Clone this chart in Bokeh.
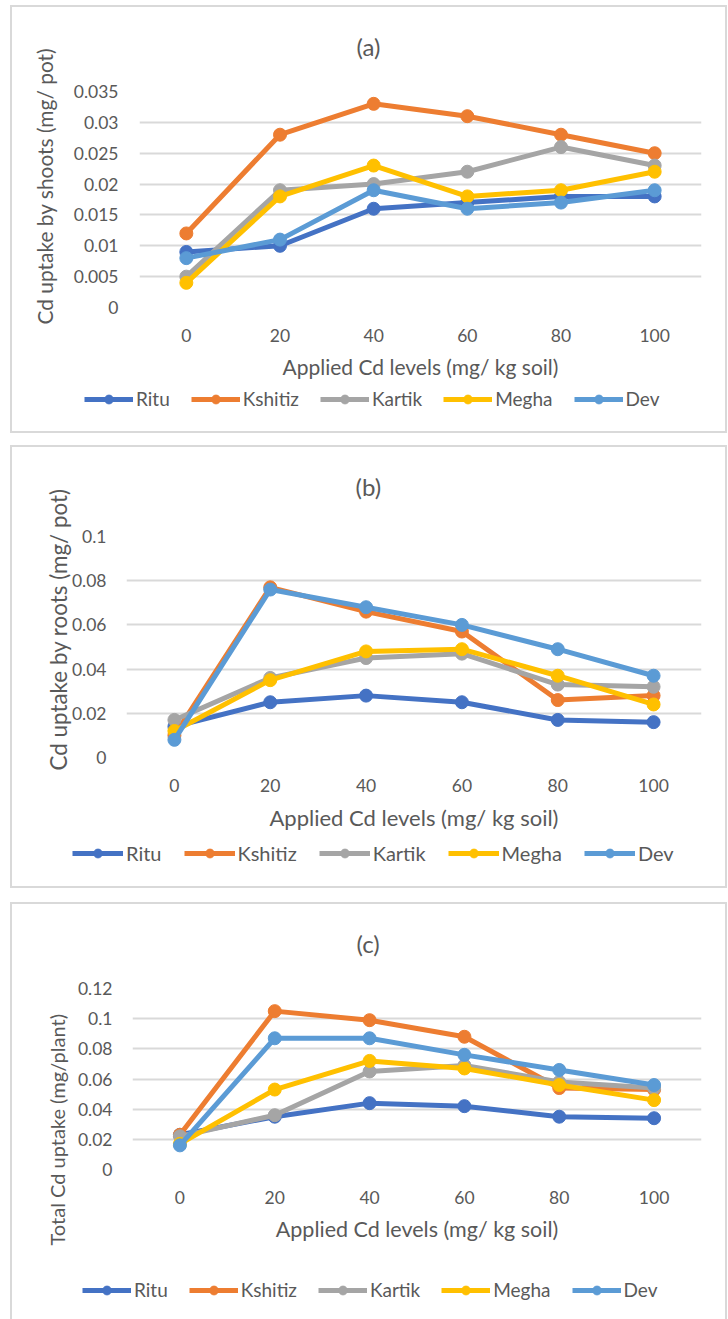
from bokeh.plotting import figure
from bokeh.models import (FactorRange, Range1d, FixedTicker, CustomJSTickFormatter,
                          Legend, LegendItem, Title, Spacer)
from bokeh.layouts import column, row
from bokeh.embed import file_html
from bokeh.resources import INLINE

# ---------------- data ----------------
levels = ["0", "20", "40", "60", "80", "100"]
series_names = ["Ritu", "Kshitiz", "Kartik", "Megha", "Dev"]
colors = ["#4472C4", "#ED7D31", "#A5A5A5", "#FFC000", "#5B9BD5"]

# (a) Cd uptake by shoots (mg/ pot)
shoots_ritu = [0.009, 0.010, 0.016, 0.017, 0.018, 0.018]
shoots_kshitiz = [0.012, 0.028, 0.033, 0.031, 0.028, 0.025]
shoots_kartik = [0.005, 0.019, 0.020, 0.022, 0.026, 0.023]
shoots_megha = [0.004, 0.018, 0.023, 0.018, 0.019, 0.022]
shoots_dev = [0.008, 0.011, 0.019, 0.016, 0.017, 0.019]
shoots_ticks = [0, 0.005, 0.01, 0.015, 0.02, 0.025, 0.03, 0.035]

# (b) Cd uptake by roots (mg/ pot)
roots_ritu = [0.014, 0.025, 0.028, 0.025, 0.017, 0.016]
roots_kshitiz = [0.010, 0.077, 0.066, 0.057, 0.026, 0.028]
roots_kartik = [0.017, 0.036, 0.045, 0.047, 0.033, 0.032]
roots_megha = [0.012, 0.035, 0.048, 0.049, 0.037, 0.024]
roots_dev = [0.008, 0.076, 0.068, 0.060, 0.049, 0.037]
roots_ticks = [0, 0.02, 0.04, 0.06, 0.08, 0.1]

# (c) Total Cd uptake (mg/plant)
total_ritu = [0.023, 0.035, 0.044, 0.042, 0.035, 0.034]
total_kshitiz = [0.023, 0.105, 0.099, 0.088, 0.054, 0.053]
total_kartik = [0.022, 0.036, 0.065, 0.069, 0.058, 0.054]
total_megha = [0.017, 0.053, 0.072, 0.067, 0.056, 0.046]
total_dev = [0.016, 0.087, 0.087, 0.076, 0.066, 0.056]
total_ticks = [0, 0.02, 0.04, 0.06, 0.08, 0.1, 0.12]

x_title = "Applied Cd levels (mg/ kg soil)"

FONT = "Lato"
TXT = "#595959"
GRID = "#D9D9D9"
FIG_LEFT = 10
FIG_W = 717
LEG_H = 22

# layout constants (page pixels / pixel gaps)
panels = [
    dict(title="(a)", ytitle="Cd uptake by shoots (mg/ pot)",
         series=[shoots_ritu, shoots_kshitiz, shoots_kartik, shoots_megha, shoots_dev],
         ticks=shoots_ticks, top=0, box_top=5, split=386, bottom=433,
         fl=139, fr=701, ft=90, fb=307,
         t_off=217, t_so=60,
         yt_size=20.9, yt_so=26, yt_off=-17, ylab_gap=21, xt_size=21,
         leg_left=84, leg_cy=399, leg_font=19, leg_glyph=49, leg_sp=21, sides=4),
    dict(title="(b)", ytitle="Cd uptake by roots (mg/ pot)",
         series=[roots_ritu, roots_kshitiz, roots_kartik, roots_megha, roots_dev],
         ticks=roots_ticks, top=436, box_top=445, split=840, bottom=888,
         fl=126, fr=701, ft=535, fb=757,
         t_off=229, t_so=69,
         yt_size=22.4, yt_so=-8, yt_off=-13, ylab_gap=20, xt_size=22,
         leg_left=72, leg_cy=854, leg_font=20, leg_glyph=51, leg_sp=22, sides=4),
    dict(title="(c)", ytitle="Total Cd uptake (mg/plant)",
         series=[total_ritu, total_kshitiz, total_kartik, total_megha, total_dev],
         ticks=total_ticks, top=897, box_top=902, split=1258, bottom=1319,
         fl=132, fr=701, ft=987, fb=1169,
         t_off=224, t_so=60,
         yt_size=20, yt_so=10, yt_off=-76, ylab_gap=20, xt_size=21.5,
         leg_left=82, leg_cy=1290, leg_font=19, leg_glyph=49, leg_sp=21, sides=3),
]


def make_panel(cfg):
    fl, fr, ft, fb = cfg["fl"], cfg["fr"], cfg["ft"], cfg["fb"]
    top, h = cfg["top"], cfg["split"] - cfg["top"]
    ymax = cfg["ticks"][-1]

    # ---------------- chart ----------------
    p = figure(width=FIG_W, height=h, x_range=FactorRange(*levels),
               y_range=Range1d(0, ymax), output_backend="svg", toolbar_location=None,
               min_border_left=fl - FIG_LEFT, min_border_right=FIG_LEFT + FIG_W - fr,
               min_border_top=ft - top, min_border_bottom=top + h - fb)
    p.border_fill_color = None
    p.background_fill_color = None
    p.outline_line_color = None

    p.yaxis.ticker = FixedTicker(ticks=cfg["ticks"])
    p.yaxis.formatter = CustomJSTickFormatter(code="return String(Number(tick.toFixed(4)))")
    for ax in (p.xaxis[0], p.yaxis[0]):
        ax.axis_line_color = None
        ax.major_tick_line_color = None
        ax.minor_tick_line_color = None
        ax.major_label_text_font = FONT
        ax.major_label_text_font_size = "17.5px"
        ax.major_label_text_color = TXT
    p.yaxis.major_tick_out = 0
    p.yaxis.minor_tick_out = 0
    p.yaxis.major_label_standoff = cfg["ylab_gap"]
    p.xaxis.major_label_standoff = 15
    p.xaxis.axis_label = x_title
    p.xaxis.axis_label_text_font = FONT
    p.xaxis.axis_label_text_font_size = f"{cfg['xt_size']}px"
    p.xaxis.axis_label_text_font_style = "normal"
    p.xaxis.axis_label_text_color = TXT
    p.xaxis.axis_label_standoff = 9

    p.xgrid.grid_line_color = None
    p.ygrid.grid_line_color = GRID
    p.ygrid.grid_line_width = 2
    p.ygrid.ticker = FixedTicker(ticks=cfg["ticks"])

    for name, col, vals in zip(series_names, colors, cfg["series"]):
        p.line(x=levels, y=vals, line_width=5, line_color=col)
        p.scatter(x=levels, y=vals, size=13, fill_color=col, line_color=col)

    p.add_layout(Title(text=cfg["title"], align="left", offset=cfg["t_off"],
                       vertical_align="middle", standoff=cfg["t_so"],
                       text_font=FONT, text_font_size="24px",
                       text_font_style="normal", text_color=TXT), "above")
    p.add_layout(Title(text=cfg["ytitle"], align="left", offset=cfg["yt_off"],
                       vertical_align="middle", standoff=cfg["yt_so"],
                       text_font=FONT, text_font_size=f"{cfg['yt_size']}px",
                       text_font_style="normal", text_color=TXT), "left")

    # ---------------- legend strip (own figure, whole canvas is its frame) ----------------
    lh = cfg["bottom"] - cfg["split"]
    lf = figure(width=FIG_W, height=lh, x_range=FactorRange(*levels), y_range=Range1d(1, 2),
                x_axis_location=None, y_axis_location=None,
                output_backend="svg", toolbar_location=None,
                min_border_left=0, min_border_right=0, min_border_top=0, min_border_bottom=0)
    lf.border_fill_color = None
    lf.background_fill_color = None
    lf.outline_line_color = None
    lf.grid.grid_line_color = None
    items = []
    for name, col, vals in zip(series_names, colors, cfg["series"]):
        # same series, drawn here only to supply the legend keys (out of this strip's view)
        rl = lf.line(x=levels, y=vals, line_width=5, line_color=col)
        rs = lf.scatter(x=levels, y=vals, size=13, fill_color=col, line_color=col)
        items.append(LegendItem(label=name, renderers=[rl, rs]))
    legend = Legend(items=items, orientation="horizontal",
                    location=(cfg["leg_left"] - FIG_LEFT,
                              cfg["bottom"] - (cfg["leg_cy"] + LEG_H / 2)),
                    glyph_width=cfg["leg_glyph"], glyph_height=LEG_H, label_height=LEG_H,
                    label_standoff=3, spacing=cfg["leg_sp"], padding=0, margin=0,
                    border_line_color=None, background_fill_alpha=0,
                    label_text_font=FONT, label_text_font_size=f"{cfg['leg_font']}px",
                    label_text_color=TXT)
    lf.add_layout(legend)

    # panel frame: the visible border starts `band` px below the element's top edge
    band = cfg["box_top"] - cfg["top"]
    shadows = [f"inset 0 {band}px 0 0 #FFFFFF",
               f"inset 0 {band + 2}px 0 0 {GRID}",
               f"inset 2px 0 0 0 {GRID}",
               f"inset -2px 0 0 0 {GRID}"]
    if cfg["sides"] == 4:
        shadows.append(f"inset 0 -2px 0 0 {GRID}")
    # separate rows keep the two figures' frames independent
    return column(row(p), row(lf), styles={"box-shadow": ", ".join(shadows)})


boxes = [make_panel(c) for c in panels]
layout = column(
    row(Spacer(width=FIG_LEFT), boxes[0]),
    Spacer(height=panels[1]["top"] - panels[0]["bottom"]),
    row(Spacer(width=FIG_LEFT), boxes[1]),
    Spacer(height=panels[2]["top"] - panels[1]["bottom"]),
    row(Spacer(width=FIG_LEFT), boxes[2]),
)

open("out.html", "w").write(file_html(layout, INLINE))
